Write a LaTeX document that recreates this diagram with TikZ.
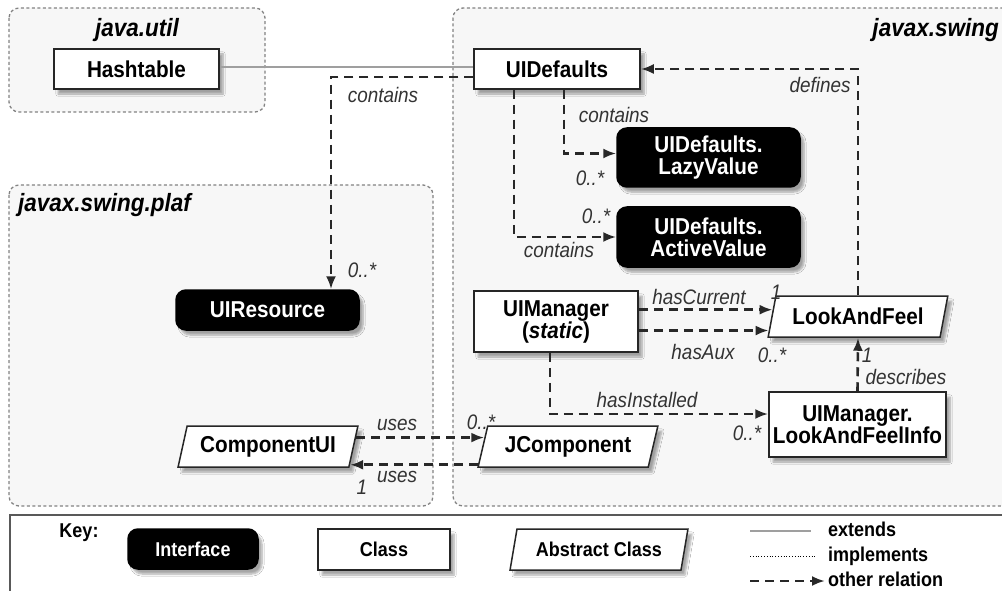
\documentclass[tikz,border=0pt]{standalone}
\usepackage{fontspec}
\setmainfont{Liberation Sans}[FakeStretch=0.9]
\usepackage{tikz}
\usetikzlibrary{arrows.meta, calc, shapes.geometric, shadows.blur}
\definecolor{pkgfill}{RGB}{247,247,247}
\definecolor{pkgline}{RGB}{130,130,130}
\definecolor{relgray}{RGB}{40,40,40}
\newcommand{\boxfont}{\fontsize{23}{22}\selectfont\bfseries}
\newcommand{\lblfont}{\fontsize{21}{22}\selectfont\itshape}
\newcommand{\pkgfont}{\fontsize{25}{26}\selectfont\bfseries\itshape}
\newcommand{\keyfont}{\fontsize{20}{21}\selectfont\bfseries}
\tikzset{
  boxshadow/.style={blur shadow={shadow xshift=4pt, shadow yshift=-5pt, shadow blur steps=6, shadow opacity=35}},
  pkg/.style={draw=pkgline, fill=pkgfill, line width=1.3pt, dash pattern=on 3pt off 2.5pt, rounded corners=10pt},
  classbox/.style={draw=black!85, fill=white, line width=1.5pt, font=\boxfont, align=center, inner sep=0pt, boxshadow},
  ifacebox/.style={classbox, fill=black, draw=black, text=white, rounded corners=10pt},
  absbox/.style={classbox, trapezium, trapezium left angle=70, trapezium right angle=110, trapezium stretches=true},
  rel/.style={draw=relgray, line width=2.6pt, dash pattern=on 9pt off 6pt, -{Latex[length=13pt,width=10pt]}},
  extends/.style={draw=gray!75, line width=2pt},
  lbl/.style={font=\lblfont, text=black!80, inner sep=0pt},
  pkgtitle/.style={font=\pkgfont, inner sep=0pt},
  keytext/.style={font=\keyfont, inner sep=0pt, anchor=west, text height=14pt, text depth=4pt},
}
\begin{document}
\begin{tikzpicture}[x=1pt, y=-1pt]
        \useasboundingbox (0,0) rectangle (1002,591);
        \draw[pkg] (9,8) rectangle (265,112);
        \draw[pkg] (453,8) rectangle (1020,506);
        \draw[pkg] (9,185) rectangle (433,506);
        \node[pkgtitle] (utiltitle) at (137,30) {java.util};
        \node[pkgtitle, anchor=east] (swingtitle) at (999,30) {javax.swing};
        \node[pkgtitle, anchor=west] (plaftitle) at (18,205) {javax.swing.plaf};

        \node[classbox, minimum width=165pt, minimum height=40pt] (hashtable) at (136.5,69) {Hashtable};
        \node[classbox, minimum width=166pt, minimum height=40pt] (uidefaults) at (557,69) {UIDefaults};
        \node[ifacebox, minimum width=183pt, minimum height=59pt] (lazyval) at (708.5,157.5) {UIDefaults.\\LazyValue};
        \node[ifacebox, minimum width=183pt, minimum height=60pt] (activeval) at (708.5,237) {UIDefaults.\\ActiveValue};
        \node[ifacebox, minimum width=183pt, minimum height=40pt] (uiresource) at (267.5,310) {UIResource};
        \node[classbox, minimum width=164pt, minimum height=61pt] (uimanager) at (556,321.5) {UIManager\\(\textit{static})};
        \node[absbox, minimum width=180pt, minimum height=41pt] (laf) at (858,316.5) {LookAndFeel};
        \node[classbox, minimum width=177pt, minimum height=65pt] (lafinfo) at (857.5,424.5) {UIManager.\\LookAndFeelInfo};
        \node[absbox, minimum width=180pt, minimum height=41pt] (compui) at (268,446.5) {ComponentUI};
        \node[absbox, minimum width=180pt, minimum height=41pt] (jcomp) at (568,446.5) {JComponent};

        \coordinate (lafcur) at ($(laf.bottom left corner)!0.66!(laf.top left corner)$);
        \coordinate (lafaux) at ($(laf.bottom left corner)!0.17!(laf.top left corner)$);
        \coordinate (cuout) at ($(compui.bottom right corner)!0.71!(compui.top right corner)$);
        \coordinate (jcin) at ($(jcomp.bottom left corner)!0.71!(jcomp.top left corner)$);
        \coordinate (cuin) at ($(compui.bottom right corner)!0.07!(compui.top right corner)$);
        \coordinate (jcout) at ($(jcomp.bottom left corner)!0.07!(jcomp.top left corner)$);

        \draw[extends] ([yshift=2pt]hashtable.east) -- ([yshift=2pt]uidefaults.west);
        \draw[rel] ([yshift=-8pt]uidefaults.west) -| ([xshift=63.5pt]uiresource.north);
        \draw[rel] ([xshift=7pt]uidefaults.south) |- ([yshift=4pt]lazyval.west);
        \draw[rel] ([xshift=-43pt]uidefaults.south) |- (activeval.west);
        \draw[rel] (laf.north) |- (uidefaults.east);
        \draw[rel] (uimanager.east |- lafcur) -- (lafcur);
        \draw[rel] (uimanager.east |- lafaux) -- (lafaux);
        \draw[rel] (lafinfo.north) -- (laf.south);
        \draw[rel] ([xshift=-6pt]uimanager.south) |- ([yshift=10.5pt]lafinfo.west);
        \draw[rel] (cuout) -- (jcin);
        \draw[rel] (jcout) -- (cuin);

        \node[lbl] (lbcont1) at (383,95) {contains};
        \node[lbl] (lbmult1) at (362,270) {0..*};
        \node[lbl] (lbcont2) at (614,115) {contains};
        \node[lbl] (lbmult2) at (590,178) {0..*};
        \node[lbl] (lbmult3) at (596,216) {0..*};
        \node[lbl] (lbcont3) at (559,250) {contains};
        \node[lbl] (lbdef) at (820,85) {defines};
        \node[lbl] (lbcur) at (699,297) {hasCurrent};
        \node[lbl] (lbone1) at (776,292) {1};
        \node[lbl] (lbaux) at (703,352) {hasAux};
        \node[lbl] (lbmult4) at (772,355) {0..*};
        \node[lbl] (lbone2) at (867,355) {1};
        \node[lbl] (lbdesc) at (906,377) {describes};
        \node[lbl] (lbinst) at (647,400) {hasInstalled};
        \node[lbl] (lbmult5) at (747,433) {0..*};
        \node[lbl] (lbuses1) at (397,425) {uses};
        \node[lbl] (lbmult6) at (481,422) {0..*};
        \node[lbl] (lbuses2) at (397,477) {uses};
        \node[lbl] (lbone3) at (362,487) {1};

        \draw[draw=black!65, fill=white, line width=2.2pt] (10,515) rectangle (1020,600);
        \node[font=\keyfont, inner sep=0pt] (keytitle) at (79,533) {Key:};
        \node[ifacebox, font=\keyfont, minimum width=130pt, minimum height=40pt] (keyiface) at (193,549) {Interface};
        \node[classbox, font=\keyfont, minimum width=132pt, minimum height=41pt] (keyclass) at (384,549.5) {Class};
        \node[absbox, font=\keyfont, minimum width=178pt, minimum height=41pt] (keyabs) at (599,549.5) {Abstract Class};
        \node[keytext] (keyext) at (828,531) {extends};
        \node[keytext] (keyimpl) at (828,556) {implements};
        \node[keytext] (keyrel) at (828,581) {other relation};
        \draw[extends] ([xshift=-78pt]keyext.west) -- ([xshift=-17pt]keyext.west);
        \draw[black, line width=0.8pt, dotted] ([xshift=-78pt]keyimpl.west) -- ([xshift=-13pt]keyimpl.west);
        \draw[rel] ([xshift=-78pt]keyrel.west) -- ([xshift=-3pt]keyrel.west);
\end{tikzpicture}
\end{document}
